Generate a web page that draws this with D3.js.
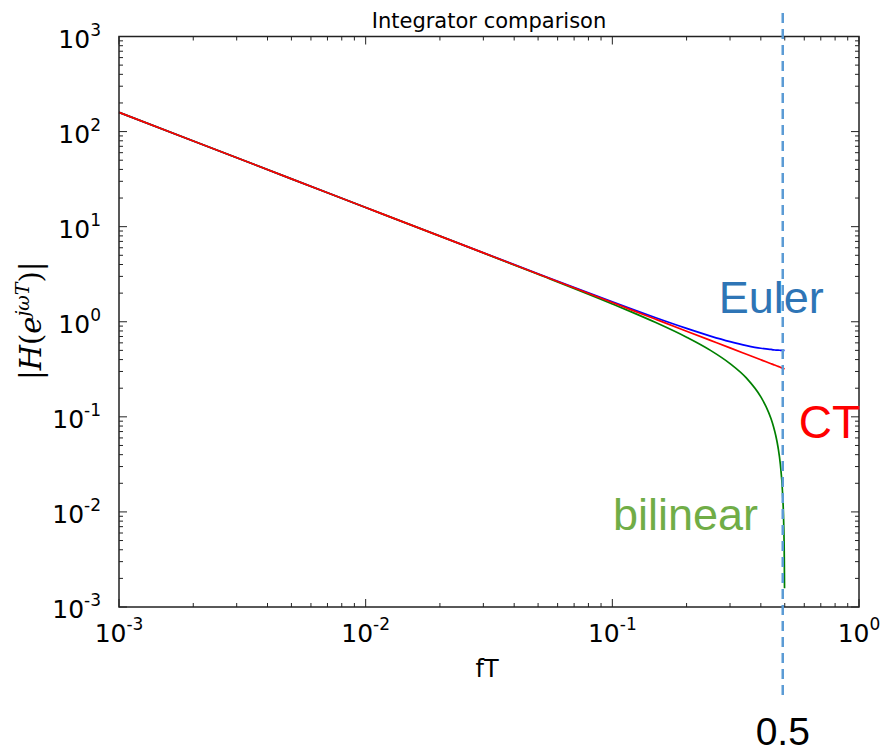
<!DOCTYPE html>
<meta charset="utf-8">
<style>
body { margin: 0; background: #fff; }
text { font-family: "DejaVu Sans", sans-serif; }
.note { font-family: "Liberation Sans", Arial, sans-serif; }
</style>
<body>
<div id="chart"></div>
<script src="https://cdn.jsdelivr.net/npm/d3@7"></script>
<script>

// fT samples and |H|
var fT = [0.001, 0.002, 0.005, 0.01, 0.02, 0.05, 0.1, 0.12, 0.15, 0.2, 0.25, 0.3, 0.35, 0.4, 0.42, 0.44, 0.45, 0.46, 0.47, 0.48, 0.49, 0.495, 0.498, 0.499];
var euler = [159.2, 79.6, 31.83, 15.92, 7.963, 3.196, 1.618, 1.358, 1.101, 0.851, 0.707, 0.618, 0.561, 0.526, 0.518, 0.512, 0.506, 0.504, 0.502, 0.501, 0.5, 0.5, 0.5, 0.5];
var ct = [159.2, 79.6, 31.83, 15.92, 7.96, 3.18, 1.592, 1.326, 1.061, 0.796, 0.637, 0.531, 0.455, 0.398, 0.379, 0.362, 0.354, 0.346, 0.339, 0.332, 0.325, 0.322, 0.3196, 0.319];
var bilinear = [159.2, 79.6, 31.83, 15.91, 7.947, 3.157, 1.539, 1.263, 0.981, 0.688, 0.5, 0.363, 0.255, 0.162, 0.128, 0.0954, 0.0792, 0.0632, 0.0473, 0.0315, 0.0157, 0.00785, 0.00314, 0.00157];

var xTicks = [0.001, 0.01, 0.1, 1];
var yTicks = [0.001, 0.01, 0.1, 1, 10, 100, 1000];
var xExp = ["-3", "-2", "-1", "0"];
var yExp = ["-3", "-2", "-1", "0", "1", "2", "3"];

// red is drawn last so it sits on top
var series = [
  {name: "Euler", values: euler, color: "#0000ff"},
  {name: "bilinear", values: bilinear, color: "#008000"},
  {name: "CT", values: ct, color: "#ff0000"}
];

// hand-placed curve names (in data units)
var notes = [
  {text: "Euler", fx: 0.27, fy: 1.24, color: "#2e75b6", size: 45},
  {text: "CT", fx: 0.57, fy: 0.06, color: "#ff0000", size: 46},
  {text: "bilinear", fx: 0.1006, fy: 0.00645, color: "#70ad47", size: 45}
];

var width = 881, height = 753;
var margin = {top: 36.5, right: 22, bottom: 146, left: 119};
var w = width - margin.left - margin.right,
    h = height - margin.top - margin.bottom;

var svg = d3.select("#chart").append("svg")
    .attr("width", width)
    .attr("height", height);

var g = svg.append("g")
    .attr("transform", "translate(" + margin.left + "," + margin.top + ")");

var x = d3.scaleLog().domain([0.001, 1]).range([0, w]);
var y = d3.scaleLog().domain([0.001, 1000]).range([h, 0]);

// minor ticks 2..9 in every decade
var xMinor = [], yMinor = [];
xTicks.slice(0, -1).forEach(function(d) { for (var k = 2; k < 10; k++) xMinor.push(d * k); });
yTicks.slice(0, -1).forEach(function(d) { for (var k = 2; k < 10; k++) yMinor.push(d * k); });

var tickColor = "#222";
function vTicks(vals, len) {
  g.append("g").selectAll("line").data(vals).enter().append("line")
    .attr("x1", function(d) { return x(d); }).attr("x2", function(d) { return x(d); })
    .attr("y1", h).attr("y2", h - len)
    .attr("stroke", tickColor).attr("stroke-width", 1);
  g.append("g").selectAll("line").data(vals).enter().append("line")
    .attr("x1", function(d) { return x(d); }).attr("x2", function(d) { return x(d); })
    .attr("y1", 0).attr("y2", len)
    .attr("stroke", tickColor).attr("stroke-width", 1);
}
function hTicks(vals, len) {
  g.append("g").selectAll("line").data(vals).enter().append("line")
    .attr("y1", function(d) { return y(d); }).attr("y2", function(d) { return y(d); })
    .attr("x1", 0).attr("x2", len)
    .attr("stroke", tickColor).attr("stroke-width", 1);
  g.append("g").selectAll("line").data(vals).enter().append("line")
    .attr("y1", function(d) { return y(d); }).attr("y2", function(d) { return y(d); })
    .attr("x1", w).attr("x2", w - len)
    .attr("stroke", tickColor).attr("stroke-width", 1);
}
vTicks(xMinor, 4); vTicks(xTicks, 8);
hTicks(yMinor, 4); hTicks(yTicks, 8);

// curves
var line = d3.line()
  .x(function(d) { return x(d[0]); })
  .y(function(d) { return y(d[1]); })
  .curve(d3.curveMonotoneX);

g.selectAll(".curve").data(series).enter().append("path")
  .attr("class", "curve")
  .attr("d", function(s) { return line(fT.map(function(f, i) { return [f, s.values[i]]; })); })
  .attr("fill", "none")
  .attr("stroke", function(s) { return s.color; })
  .attr("stroke-width", 1.7);

// frame
g.append("rect")
  .attr("width", w).attr("height", h)
  .attr("fill", "none")
  .attr("stroke", "#222")
  .attr("stroke-width", 1.5);

// tick labels
g.selectAll(".xl").data(xTicks).enter().append("text")
  .attr("x", function(d) { return x(d); })
  .attr("y", h + 35)
  .attr("text-anchor", "middle")
  .attr("font-size", 25)
  .each(function(d, i) {
    var t = d3.select(this);
    t.append("tspan").text("10");
    t.append("tspan").attr("dy", -12).attr("font-size", 17).text(xExp[i]);
  });

g.selectAll(".yl").data(yTicks).enter().append("text")
  .attr("x", -18)
  .attr("y", function(d) { return y(d) + 11; })
  .attr("text-anchor", "end")
  .attr("font-size", 25)
  .each(function(d, i) {
    var t = d3.select(this);
    t.append("tspan").text("10");
    t.append("tspan").attr("dy", -12).attr("font-size", 17).text(yExp[i]);
  });

// title and axis labels
svg.append("text")
  .attr("x", margin.left + w / 2)
  .attr("y", 28)
  .attr("text-anchor", "middle")
  .attr("font-size", 21)
  .text("Integrator comparison");

svg.append("text")
  .attr("x", margin.left + w / 2 - 2)
  .attr("y", 677)
  .attr("text-anchor", "middle")
  .attr("font-size", 24)
  .text("fT");

var yl = svg.append("text")
  .attr("transform", "translate(41," + (margin.top + y(1) - 1) + ") rotate(-90)")
  .attr("text-anchor", "middle")
  .attr("font-size", 29)
  .style("font-family", "'DejaVu Serif', serif");
yl.append("tspan").text("|");
yl.append("tspan").attr("font-style", "italic").text("H");
yl.append("tspan").text("(");
yl.append("tspan").attr("font-style", "italic").text("e");
yl.append("tspan").attr("font-style", "italic").attr("font-size", 19).attr("dy", -12).text("jωT");
yl.append("tspan").attr("dy", 12).text(")|");

// dashed marker at fT = 0.5
var half = 0.5;
svg.append("line")
  .attr("x1", margin.left + x(half) - 2).attr("x2", margin.left + x(half) - 2)
  .attr("y1", 13).attr("y2", 696)
  .attr("stroke", "#5b9bd5")
  .attr("stroke-width", 2.5)
  .attr("stroke-dasharray", "10,6");

svg.append("text")
  .attr("class", "note")
  .attr("x", margin.left + x(half) - 2)
  .attr("y", 745)
  .attr("text-anchor", "middle")
  .attr("font-size", 39)
  .attr("fill", "#000")
  .text("0.5");

// curve names
g.selectAll(".nt").data(notes).enter().append("text")
  .attr("class", "note")
  .attr("x", function(d) { return x(d.fx); })
  .attr("y", function(d) { return y(d.fy); })
  .attr("font-size", function(d) { return d.size; })
  .attr("fill", function(d) { return d.color; })
  .text(function(d) { return d.text; });

</script>
</body>
